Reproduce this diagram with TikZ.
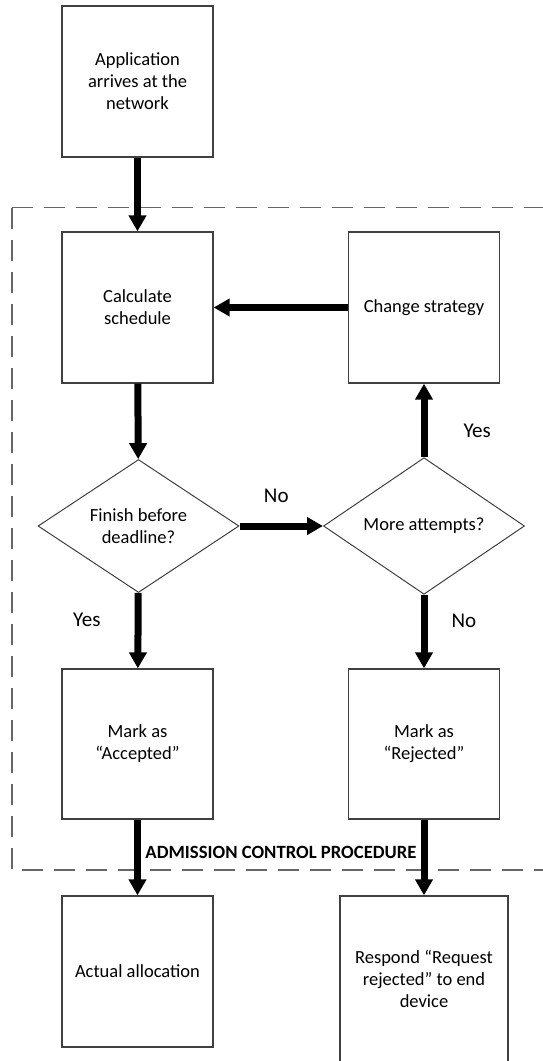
\documentclass[tikz,border=0pt]{standalone}
\usepackage{fontspec}
\setmainfont{Carlito}
\usetikzlibrary{shapes.geometric,arrows.meta}

\tikzset{
  procbox/.style={draw=black!75,line width=1.3pt,minimum width=151pt,inner sep=0pt,align=center,font=\fontsize{18.5}{22}\selectfont},
  decbox/.style={draw=black!75,line width=1pt,diamond,minimum width=201pt,minimum height=133pt,inner sep=0pt,align=center,font=\fontsize{18.5}{22}\selectfont},
  flow/.style={line width=7pt,-{Triangle[length=16pt,width=17pt]}},
  answer/.style={inner sep=0pt,font=\fontsize{21}{24}\selectfont},
  regionbox/.style={draw=black!60,line width=1.5pt,dash pattern=on 21pt off 11pt}
}

\begin{document}
\begin{tikzpicture}[x=1pt,y=-1pt]
\useasboundingbox (0,0) rectangle (543,1061);
% admission control region
\draw[regionbox] (12,207.5) rectangle (560,870);
\node[inner sep=0pt,font=\fontsize{18.7}{22}\selectfont\bfseries] (title) at (281,852) {ADMISSION CONTROL PROCEDURE};
% boxes
\node[procbox,minimum height=151pt] (app) at (137.5,81.5) {Application\\arrives at the\\network};
\node[procbox,minimum height=151pt] (calc) at (137.5,307.5) {Calculate\\schedule};
\node[procbox,minimum height=151pt] (change) at (424,307.5) {Change strategy};
\node[decbox] (fin) at (138.5,526) {Finish before\\deadline?};
\node[decbox] (more) at (424,526) {More attempts?};
\node[procbox,minimum height=150pt] (acc) at (137.5,744) {Mark as\\“Accepted”};
\node[procbox,minimum height=150pt] (rej) at (424,744) {Mark as\\“Rejected”};
\node[procbox,minimum height=151pt] (alloc) at (137.5,971.5) {Actual allocation};
\node[procbox,minimum width=168pt,minimum height=166pt] (resp) at (424,979) {Respond “Request\\rejected” to end\\device};
% arrows
\draw[flow] (app) -- (calc);
\draw[flow] (calc) -- (fin);
\draw[flow] (fin) -- node[answer,above=20pt,xshift=-5pt] {No} (more);
\draw[flow] (more) -- node[answer,pos=0.355,right=36pt] {Yes} (change);
\draw[flow] (change) -- (calc);
\draw[flow] (fin) -- node[answer,pos=0.36,left=34pt] {Yes} (acc);
\draw[flow] (more) -- node[answer,pos=0.36,right=24pt] {No} (rej);
\draw[flow] (acc) -- (alloc);
\draw[flow] (rej) -- (resp);
\end{tikzpicture}
\end{document}
